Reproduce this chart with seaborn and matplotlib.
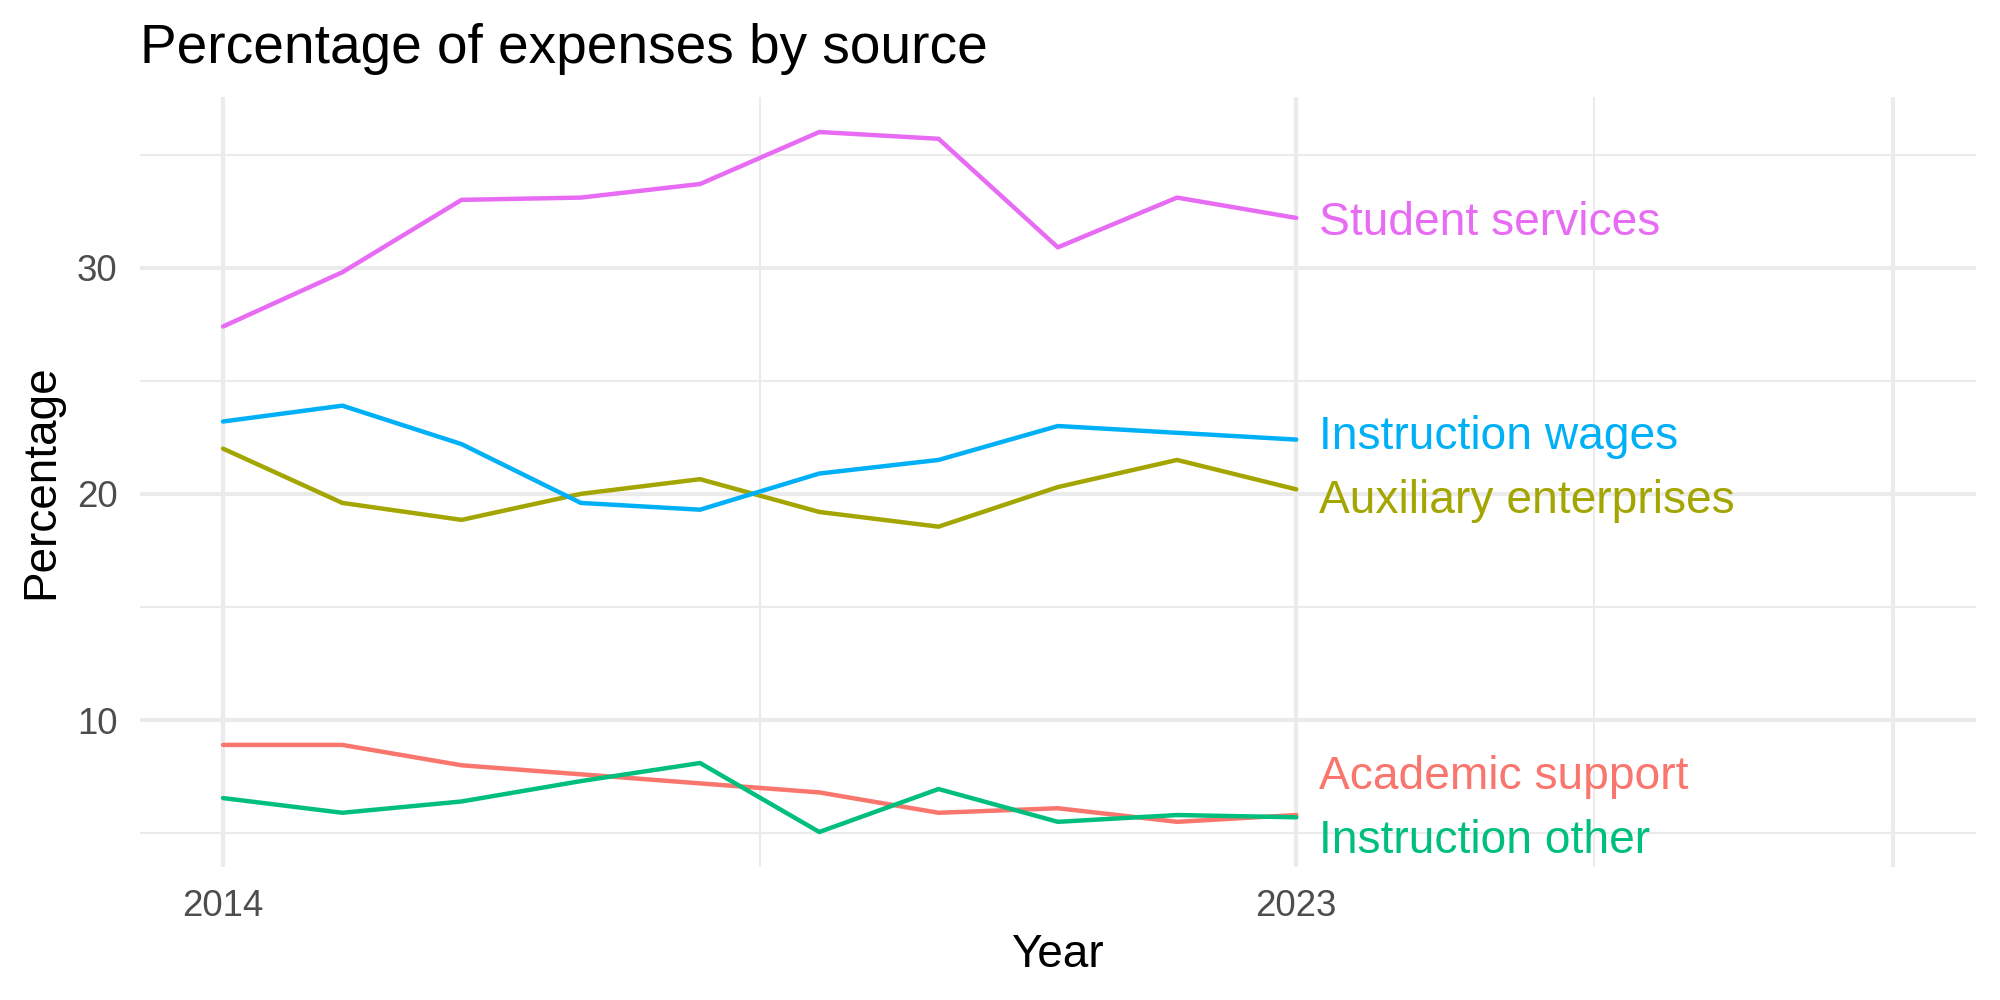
import numpy as np
import pandas as pd
import matplotlib
matplotlib.use("Agg")
import matplotlib.pyplot as plt
from matplotlib.ticker import FixedLocator
import seaborn as sns

# values
years = [2014, 2015, 2016, 2017, 2018, 2019, 2020, 2021, 2022, 2023]
academic_support = [8.9, 8.9, 8.0, 7.6, 7.2, 6.8, 5.9, 6.1, 5.5, 5.8]
auxiliary_enterprises = [22.0, 19.6, 18.85, 20.0, 20.65, 19.2, 18.55, 20.3, 21.5, 20.2]
instruction_other = [6.55, 5.9, 6.4, 7.3, 8.1, 5.05, 6.95, 5.5, 5.8, 5.7]
instruction_wages = [23.2, 23.9, 22.2, 19.6, 19.3, 20.9, 21.5, 23.0, 22.7, 22.4]
student_services = [27.4, 29.8, 33.0, 33.1, 33.7, 36.0, 35.7, 30.9, 33.1, 32.2]

sources = ["Academic support", "Auxiliary enterprises", "Instruction other",
           "Instruction wages", "Student services"]
series = [academic_support, auxiliary_enterprises, instruction_other,
          instruction_wages, student_services]
colors = ["#F8766D", "#A3A500", "#00BF7D", "#00B0F6", "#E76BF3"]

# where the end labels sit (repelled a little from the last point)
label_y = [7.67, 19.9, 4.88, 22.73, 32.2]

x_breaks = [2014, 2023, 2028]
x_labels = ["2014", "2023", ""]

df = pd.DataFrame({
    "Year": np.tile(years, len(sources)),
    "Percentage": np.concatenate(series),
    "Source": np.repeat(sources, len(years)),
})

sns.set_theme(style="white")
plt.rcParams["font.family"] = ["Liberation Sans", "DejaVu Sans"]

fig, ax = plt.subplots(figsize=(10, 5), dpi=200)
fig.subplots_adjust(left=0.0698, right=0.988, top=0.903, bottom=0.133)

sns.lineplot(data=df, x="Year", y="Percentage", hue="Source",
             palette=dict(zip(sources, colors)), linewidth=1.6,
             legend=False, ax=ax, zorder=3)

for name, col, ly in zip(sources, colors, label_y):
    ax.annotate(name, xy=(years[-1], ly), xytext=(8, -6.0),
                textcoords="offset points", color=col, fontsize=16.6,
                ha="left", va="baseline", zorder=4)

ax.set_xlim(2013.3, 2028.7)
ax.margins(y=0.05)
ax.xaxis.set_major_locator(FixedLocator(x_breaks))
ax.set_xticklabels(x_labels)
ax.xaxis.set_minor_locator(FixedLocator([2018.5, 2025.5]))
ax.yaxis.set_major_locator(FixedLocator([10, 20, 30]))
ax.yaxis.set_minor_locator(FixedLocator([5, 15, 25, 35]))

ax.grid(which="major", color="#EBEBEB", linewidth=1.5, zorder=0)
ax.grid(which="minor", color="#EBEBEB", linewidth=0.75, zorder=0)
ax.set_axisbelow(True)
for s in ax.spines.values():
    s.set_visible(False)
ax.tick_params(which="both", length=0, labelsize=13.2, colors="#4D4D4D", pad=8)

ax.set_xlabel("Year", fontsize=16.5, color="black", labelpad=3)
ax.set_ylabel("Percentage", fontsize=16.5, color="black", labelpad=5)

fig.text(0.0698, 0.937, "Percentage of expenses by source", fontsize=19.8,
         ha="left", va="baseline", color="black")

fig.savefig("out.png", dpi=200)
